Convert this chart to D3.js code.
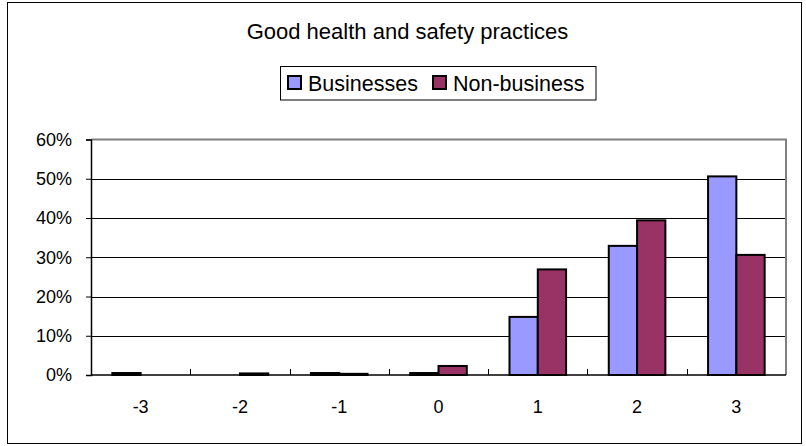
<!DOCTYPE html>
<html>
<head>
<meta charset="utf-8">
<script src="https://cdn.jsdelivr.net/npm/d3@7"></script>
<style>
html,body{margin:0;padding:0;background:#fff;}
svg{display:block;font-family:"Liberation Sans",Arial,sans-serif;}
</style>
</head>
<body>
<svg id="chart" width="806" height="446"></svg>
<script>
const categories = ["-3","-2","-1","0","1","2","3"];
const seriesNames = ["Businesses","Non-business"];
const businesses = [0.005, 0, 0.005, 0.005, 0.148, 0.329, 0.506];
const nonBusiness = [0, 0.004, 0.003, 0.023, 0.269, 0.394, 0.306];
const yTicks = [0, 0.1, 0.2, 0.3, 0.4, 0.5, 0.6];
const colors = ["#9999FF", "#993366"];
const title = "Good health and safety practices";

const svg = d3.select("#chart");
const plot = {left: 91, right: 786, top: 139.5, bottom: 375};

// outer border
svg.append("rect").attr("x",7.5).attr("y",2.5).attr("width",794).attr("height",441)
  .attr("fill","#fff").attr("stroke","#000").attr("stroke-width",1);

svg.append("text").attr("x",407.5).attr("y",39).attr("text-anchor","middle")
  .attr("font-size",22).attr("fill","#000").text(title);

const x = d3.scaleBand().domain(categories).range([plot.left, plot.right]).padding(0);
const bw = x.bandwidth();
const x1 = d3.scaleBand().domain(seriesNames).range([bw*0.215, bw*0.785]).padding(0);
const y = d3.scaleLinear().domain([0, 0.6]).range([plot.bottom, plot.top]);

// gridlines
svg.append("g").selectAll("line").data(yTicks.filter(d=>d>0 && d<0.6)).join("line")
  .attr("x1",plot.left).attr("x2",plot.right)
  .attr("y1",d=>Math.round(y(d))+0.5).attr("y2",d=>Math.round(y(d))+0.5)
  .attr("stroke","#000").attr("stroke-width",1);

// plot area border top/right grey
svg.append("path")
  .attr("d",`M${plot.left},${plot.top}H${plot.right}V${plot.bottom}`)
  .attr("fill","none").attr("stroke","#808080").attr("stroke-width",2);

// bars
const data = categories.map((c,i)=>({c, vals:[businesses[i], nonBusiness[i]]}));
const groups = svg.append("g").selectAll("g").data(data).join("g")
  .attr("transform",d=>`translate(${x(d.c)},0)`);
groups.selectAll("rect").data(d=>d.vals.map((v,j)=>({v, s:seriesNames[j], j})).filter(e=>e.v>0))
  .join("rect")
  .attr("x",e=>x1(e.s)).attr("width",x1.bandwidth())
  .attr("y",e=>y(e.v)).attr("height",e=>y(0)-y(e.v))
  .attr("fill",e=>colors[e.j]).attr("stroke","#000").attr("stroke-width",2);

// y axis
const yAxis = d3.axisLeft(y).tickValues(yTicks).tickFormat(d3.format(".0%")).tickSize(5).tickPadding(14);
const gy = svg.append("g").attr("transform",`translate(${plot.left},0)`).call(yAxis);
gy.select(".domain").attr("stroke","#000").attr("stroke-width",1.5);
gy.selectAll(".tick line").attr("stroke","#000");
gy.selectAll("text").attr("font-size",18).attr("font-family","Liberation Sans, Arial, sans-serif").attr("fill","#000");

// x axis
const gx = svg.append("g").attr("transform",`translate(0,${plot.bottom})`);
gx.append("line").attr("x1",plot.left).attr("x2",plot.right).attr("y1",0).attr("y2",0)
  .attr("stroke","#000").attr("stroke-width",1.5);
gx.selectAll("line.tk").data(categories.slice(1)).join("line").attr("class","tk")
  .attr("x1",d=>Math.round(x(d))+0.5).attr("x2",d=>Math.round(x(d))+0.5)
  .attr("y1",0).attr("y2",-6).attr("stroke","#000");
gx.selectAll("text").data(categories).join("text")
  .attr("x",d=>x(d)+bw/2).attr("y",38).attr("text-anchor","middle")
  .attr("font-size",18).attr("fill","#000").text(d=>d);

// legend
const lg = svg.append("g");
lg.append("rect").attr("x",280.5).attr("y",66.5).attr("width",315.5).attr("height",33.5)
  .attr("fill","#fff").attr("stroke","#000").attr("stroke-width",1);
const legendX = [288, 433];
seriesNames.forEach((s,i)=>{
  lg.append("rect").attr("x",legendX[i]).attr("y",76).attr("width",13).attr("height",13)
    .attr("fill",colors[i]).attr("stroke","#000").attr("stroke-width",2);
  lg.append("text").attr("x",legendX[i]+20).attr("y",91).attr("font-size",21.5).attr("fill","#000").text(s);
});
</script>
</body>
</html>
